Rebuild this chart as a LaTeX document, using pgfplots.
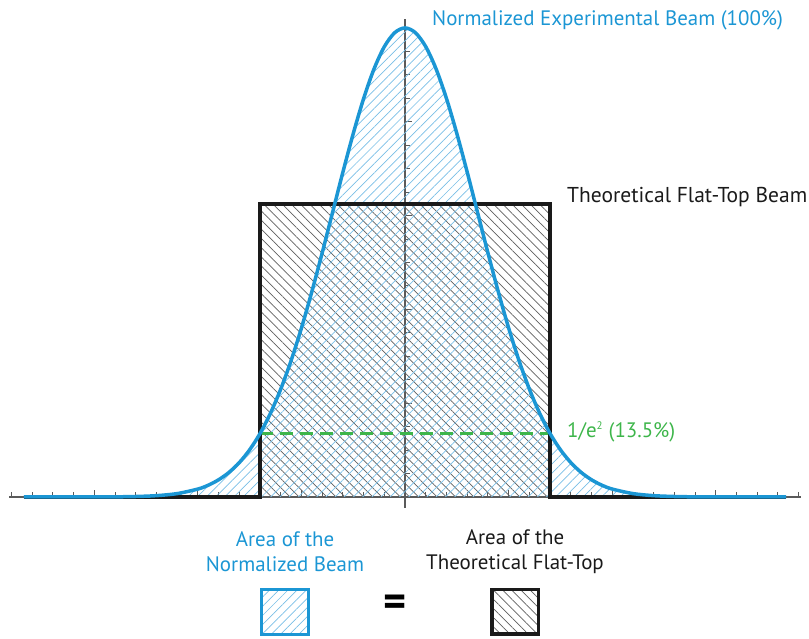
\documentclass[border=0pt]{standalone}
\usepackage{fontspec}
\setmainfont{PT Sans}
\usepackage{pgfplots}
\pgfplotsset{compat=1.18}
\usepackage{pgfplotstable}
\usetikzlibrary{patterns.meta}
\definecolor{beamblue}{RGB}{27,150,212}
\definecolor{hatchblue}{RGB}{120,190,230}
\definecolor{flatblack}{RGB}{26,26,26}
\definecolor{hatchgray}{RGB}{95,95,95}
\definecolor{axisgray}{RGB}{90,90,90}
\definecolor{lvlgreen}{RGB}{61,181,74}
\pgfplotstableread{
x y
-18.4 0
-16 0.00
-14 0.03
-13 0.10
-12 0.28
-11 0.72
-10 1.69
-9.5 2.51
-9 3.67
-8.5 5.24
-8 7.34
-7.5 10.07
-7 13.53
-6.5 17.83
-6 23.01
-5.5 29.09
-5 36.04
-4.5 43.76
-4 52.05
-3.5 60.65
-3 69.26
-2.5 77.48
-2 84.94
-1.5 91.23
-1 96.00
-0.5 98.98
0 100
0.5 98.98
1 96.00
1.5 91.23
2 84.94
2.5 77.48
3 69.26
3.5 60.65
4 52.05
4.5 43.76
5 36.04
5.5 29.09
6 23.01
6.5 17.83
7 13.53
7.5 10.07
8 7.34
8.5 5.24
9 3.67
9.5 2.51
10 1.69
11 0.72
12 0.28
13 0.10
14 0.03
16 0.00
18.4 0
}\gauss
\pgfplotstableread{
x y
-18.4 0
-7 0
-7 62.5
7 62.5
7 0
18.4 0
}\flattop
\begin{document}
\begin{tikzpicture}
\path[use as bounding box] (0,0) rectangle (809bp,639bp);
\begin{axis}[
  scale only axis, width=791.3bp, height=489bp,
  at={(9.4bp,131bp)}, anchor=south west,
  xmin=-19.1, xmax=19.1, ymin=-2.35, ymax=101.9,
  axis lines=center,
  axis line style={-, draw=axisgray, line width=1.2bp},
  xtick={-15,-10,-5,5,10,15}, minor xtick={-19,-18,...,19},
  ytick={20,40,60,80}, minor ytick={5,10,...,95},
  xticklabels={}, yticklabels={},
  tick align=inside,
  major tick length=7bp, minor tick length=5bp,
  every tick/.style={draw=axisgray, line width=0.9bp},
  clip=false,
]
\addplot[draw=none, pattern={Lines[angle=-45,distance=6.5bp,line width=0.7bp]}, pattern color=hatchgray] coordinates {(-7,0) (-7,62.5) (7,62.5) (7,0)} \closedcycle;
\addplot[draw=none, smooth, pattern={Lines[angle=45,distance=6.5bp,line width=0.7bp]}, pattern color=hatchblue] table[x=x,y=y] {\gauss} \closedcycle;
\addplot[lvlgreen, line width=3bp, dash pattern=on 13bp off 7bp] coordinates {(-7,13.53) (7,13.53)};
\addplot[flatblack, line width=3.5bp, line join=miter] table[x=x,y=y] {\flattop};
\addplot[beamblue, smooth, line width=3.5bp] table[x=x,y=y] {\gauss};
\end{axis}
\tikzset{lab/.style={inner sep=0pt, font=\fontsize{21}{25}\selectfont}}
\node[lab, anchor=west, text=beamblue] at (432bp,619bp) {Normalized Experimental Beam (100\%)};
\node[lab, anchor=west, text=flatblack, font=\fontsize{21.6}{25}\selectfont] at (567bp,442bp) {Theoretical Flat-Top Beam};
\node[lab, anchor=west, text=lvlgreen] at (567bp,207bp) {1/e\textsuperscript{\fontsize{11}{11}\selectfont 2} (13.5\%)};
\node[lab, align=center, text=beamblue] at (285bp,87bp) {Area of the\\Normalized Beam};
\node[lab, align=center, text=flatblack] at (515bp,87bp) {Area of the\\Theoretical Flat-Top};
\draw[beamblue, line width=3bp, pattern={Lines[angle=45,distance=6.5bp,line width=0.7bp]}, pattern color=hatchblue] (261.5bp,4.5bp) rectangle (308.5bp,49.5bp);
\draw[flatblack, line width=3.5bp, pattern={Lines[angle=-45,distance=6.5bp,line width=0.7bp]}, pattern color=hatchgray] (491.75bp,4.75bp) rectangle (538.25bp,49.25bp);
\node[inner sep=0pt, font=\fontsize{44}{44}\bfseries\selectfont, text=black] at (395bp,33bp) {=};
\end{tikzpicture}
\end{document}
